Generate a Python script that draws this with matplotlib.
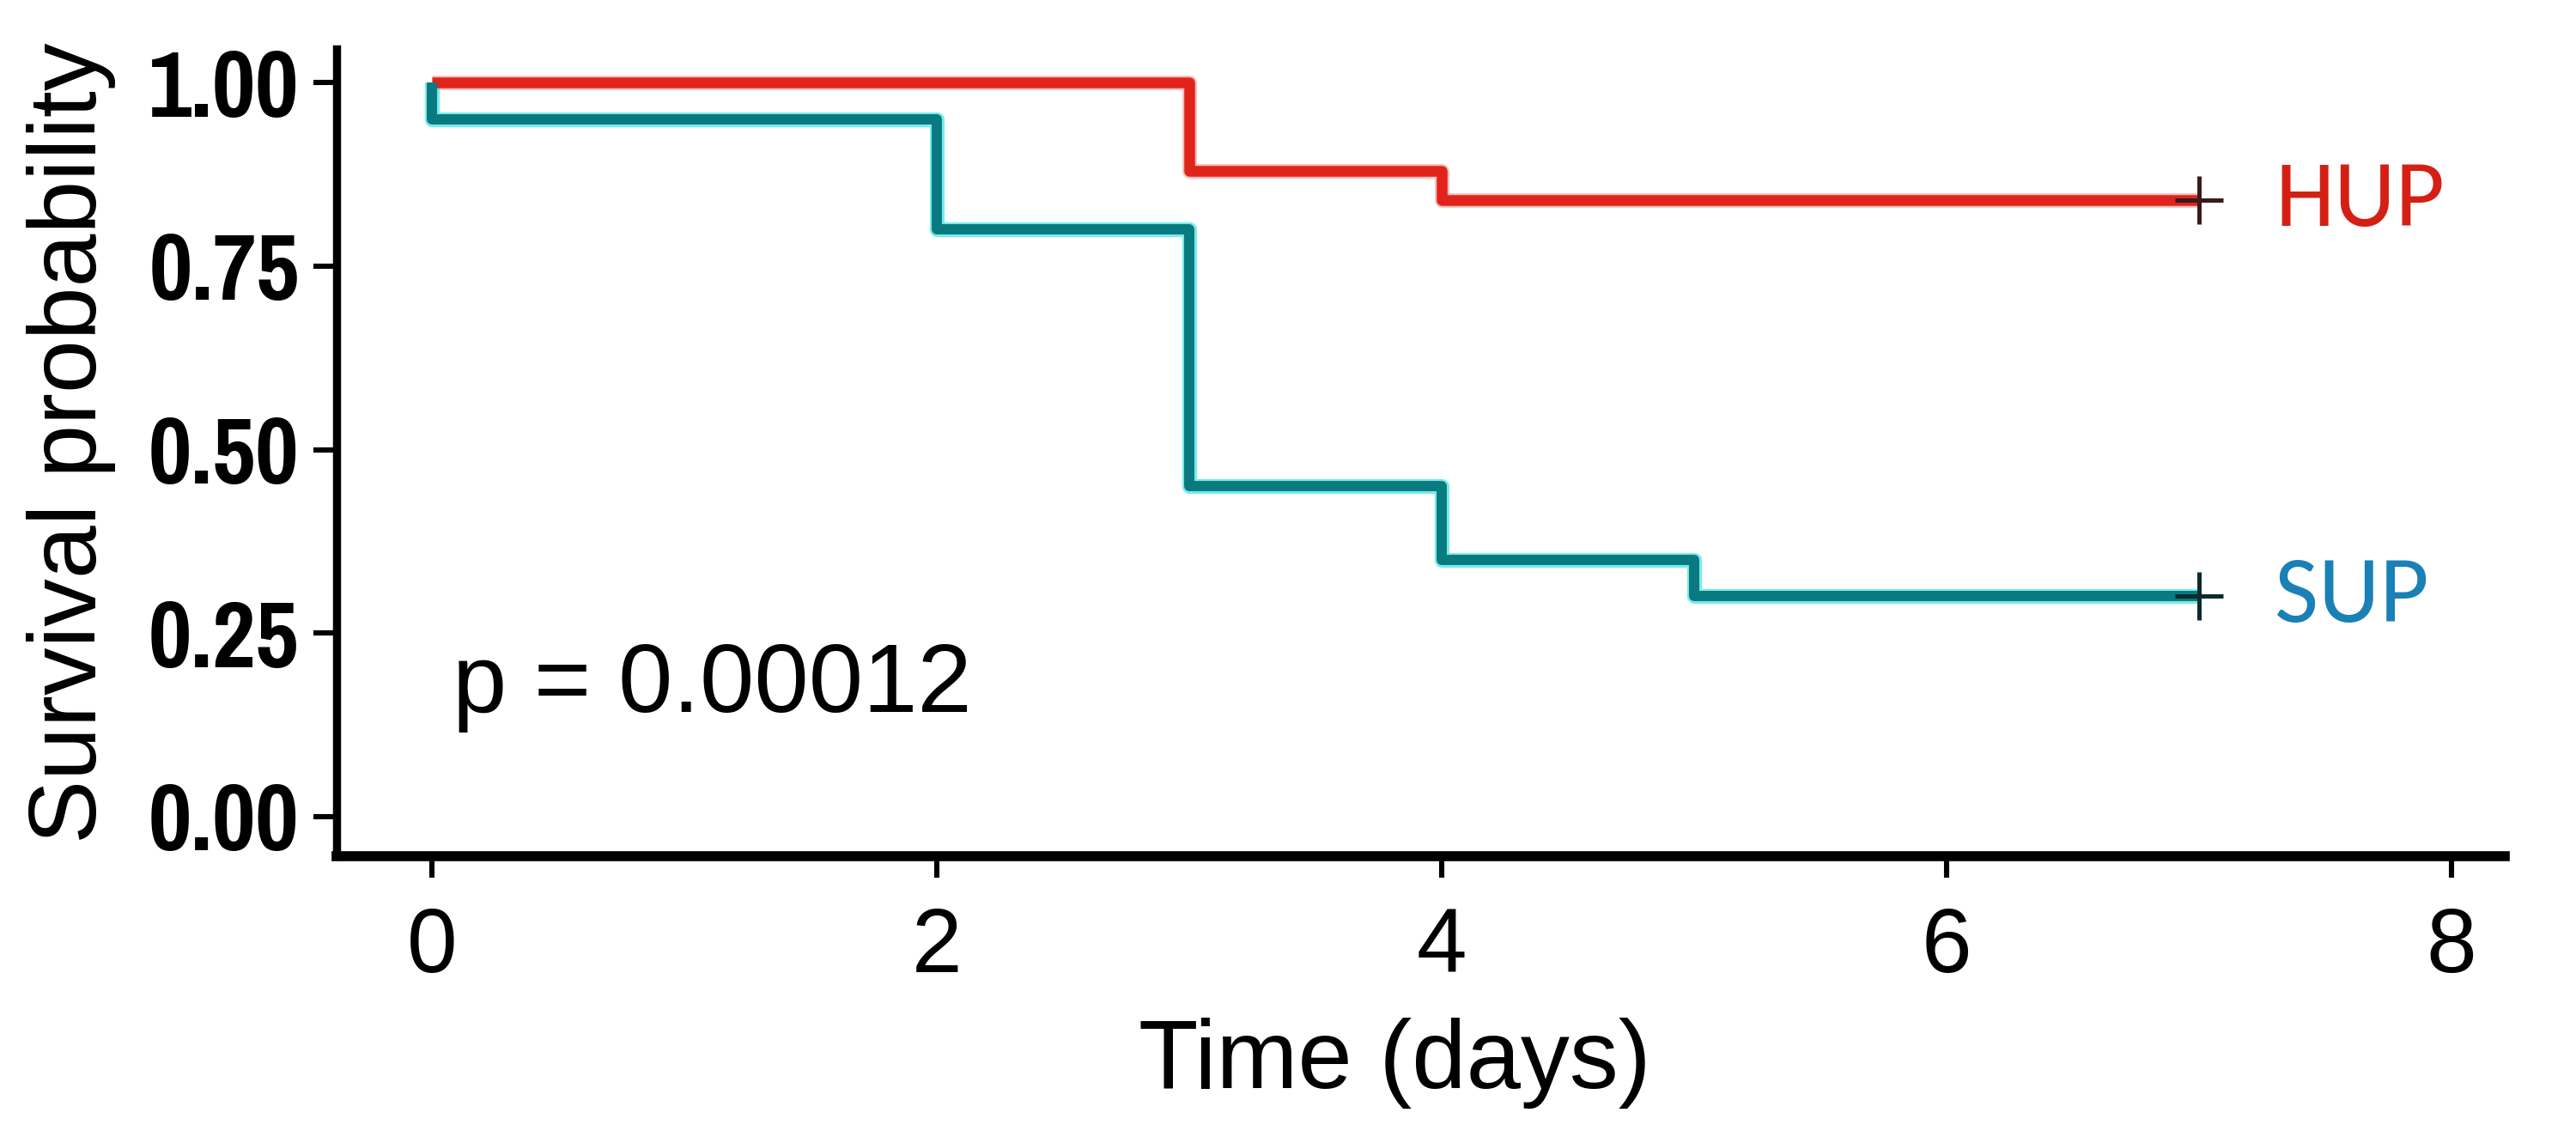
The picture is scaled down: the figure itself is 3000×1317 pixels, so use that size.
import matplotlib
matplotlib.use("Agg")
import matplotlib.pyplot as plt

# Kaplan-Meier step data
hup_time = [0, 3, 4, 7]
hup_surv = [1.00, 0.88, 0.84, 0.84]
sup_time = [0, 0, 2, 3, 4, 5, 7]
sup_surv = [1.00, 0.95, 0.80, 0.45, 0.35, 0.30, 0.30]
censor_time = 7

x_ticks = [0, 2, 4, 6, 8]
y_ticks = [0.00, 0.25, 0.50, 0.75, 1.00]
p_text = "p = 0.00012"
groups = ["HUP", "SUP"]

RED_LINE = "#E0241C"
RED_TEXT = "#D42014"
TEAL_LINE = "#087A80"
TEAL_GLOW = "#3FE3E3"
BLUE_TEXT = "#1A80B6"

NARROW_BOLD = ["Pragati Narrow", "PT Sans Narrow", "Asap Condensed", "Liberation Sans"]
LABEL_FONT = ["Carlito", "Open Sans"]

fig = plt.figure(figsize=(15, 6.585), dpi=200)
ax = fig.add_axes([0.1307, 0.243, 0.8416, 0.7137])

# curves (light halo underneath, like the source image)
ax.plot(hup_time, hup_surv, drawstyle="steps-post", color="#F06A60",
        lw=6.0, alpha=0.45, solid_capstyle="butt", zorder=2)
ax.plot(hup_time, hup_surv, drawstyle="steps-post", color=RED_LINE,
        lw=4.5, solid_capstyle="butt", zorder=3)
ax.plot(sup_time, sup_surv, drawstyle="steps-post", color=TEAL_GLOW,
        lw=6.2, alpha=0.7, solid_capstyle="butt", zorder=2)
ax.plot(sup_time, sup_surv, drawstyle="steps-post", color=TEAL_LINE,
        lw=4.3, solid_capstyle="butt", zorder=3)

# censor marks at the end of follow-up
ax.plot([censor_time], [hup_surv[-1]], marker="+", ms=20, mew=1.8,
        color="#3a1a1a", zorder=4)
ax.plot([censor_time], [sup_surv[-1]], marker="+", ms=20, mew=1.8,
        color="#0d2b2b", zorder=4)

# group labels
ax.text(7.30, hup_surv[-1], groups[0], color=RED_TEXT, fontsize=40,
        family=LABEL_FONT, va="center", ha="left")
ax.text(7.30, sup_surv[-1], groups[1], color=BLUE_TEXT, fontsize=40,
        family=LABEL_FONT, va="center", ha="left")

ax.text(0.08, 0.142, p_text, fontsize=41, family="Liberation Sans",
        va="baseline", ha="left")

ax.set_xlim(-0.378, 8.21)
ax.set_ylim(-0.054, 1.046)
ax.set_xticks(x_ticks)
ax.set_xticklabels([str(t) for t in x_ticks], family="Liberation Sans",
                   fontsize=38)
ax.set_yticks(y_ticks)
ax.set_yticklabels([f"{v:.2f}" for v in y_ticks], family=NARROW_BOLD,
                   fontweight="bold", fontsize=43)

for side in ("top", "right"):
    ax.spines[side].set_visible(False)
ax.spines["left"].set_linewidth(3.4)
ax.spines["bottom"].set_linewidth(4.2)
ax.tick_params(axis="y", length=9.7, width=2.2, pad=6)
ax.tick_params(axis="x", length=9.0, width=2.2, pad=12)

ax.set_xlabel("Time (days)", family="Liberation Sans", fontsize=41,
              labelpad=11, x=0.488)
ax.set_ylabel("Survival probability", family="Liberation Sans", fontsize=40)
ax.yaxis.set_label_coords(-0.102, 0.512)

fig.savefig("out.png", dpi=200, facecolor="white")
